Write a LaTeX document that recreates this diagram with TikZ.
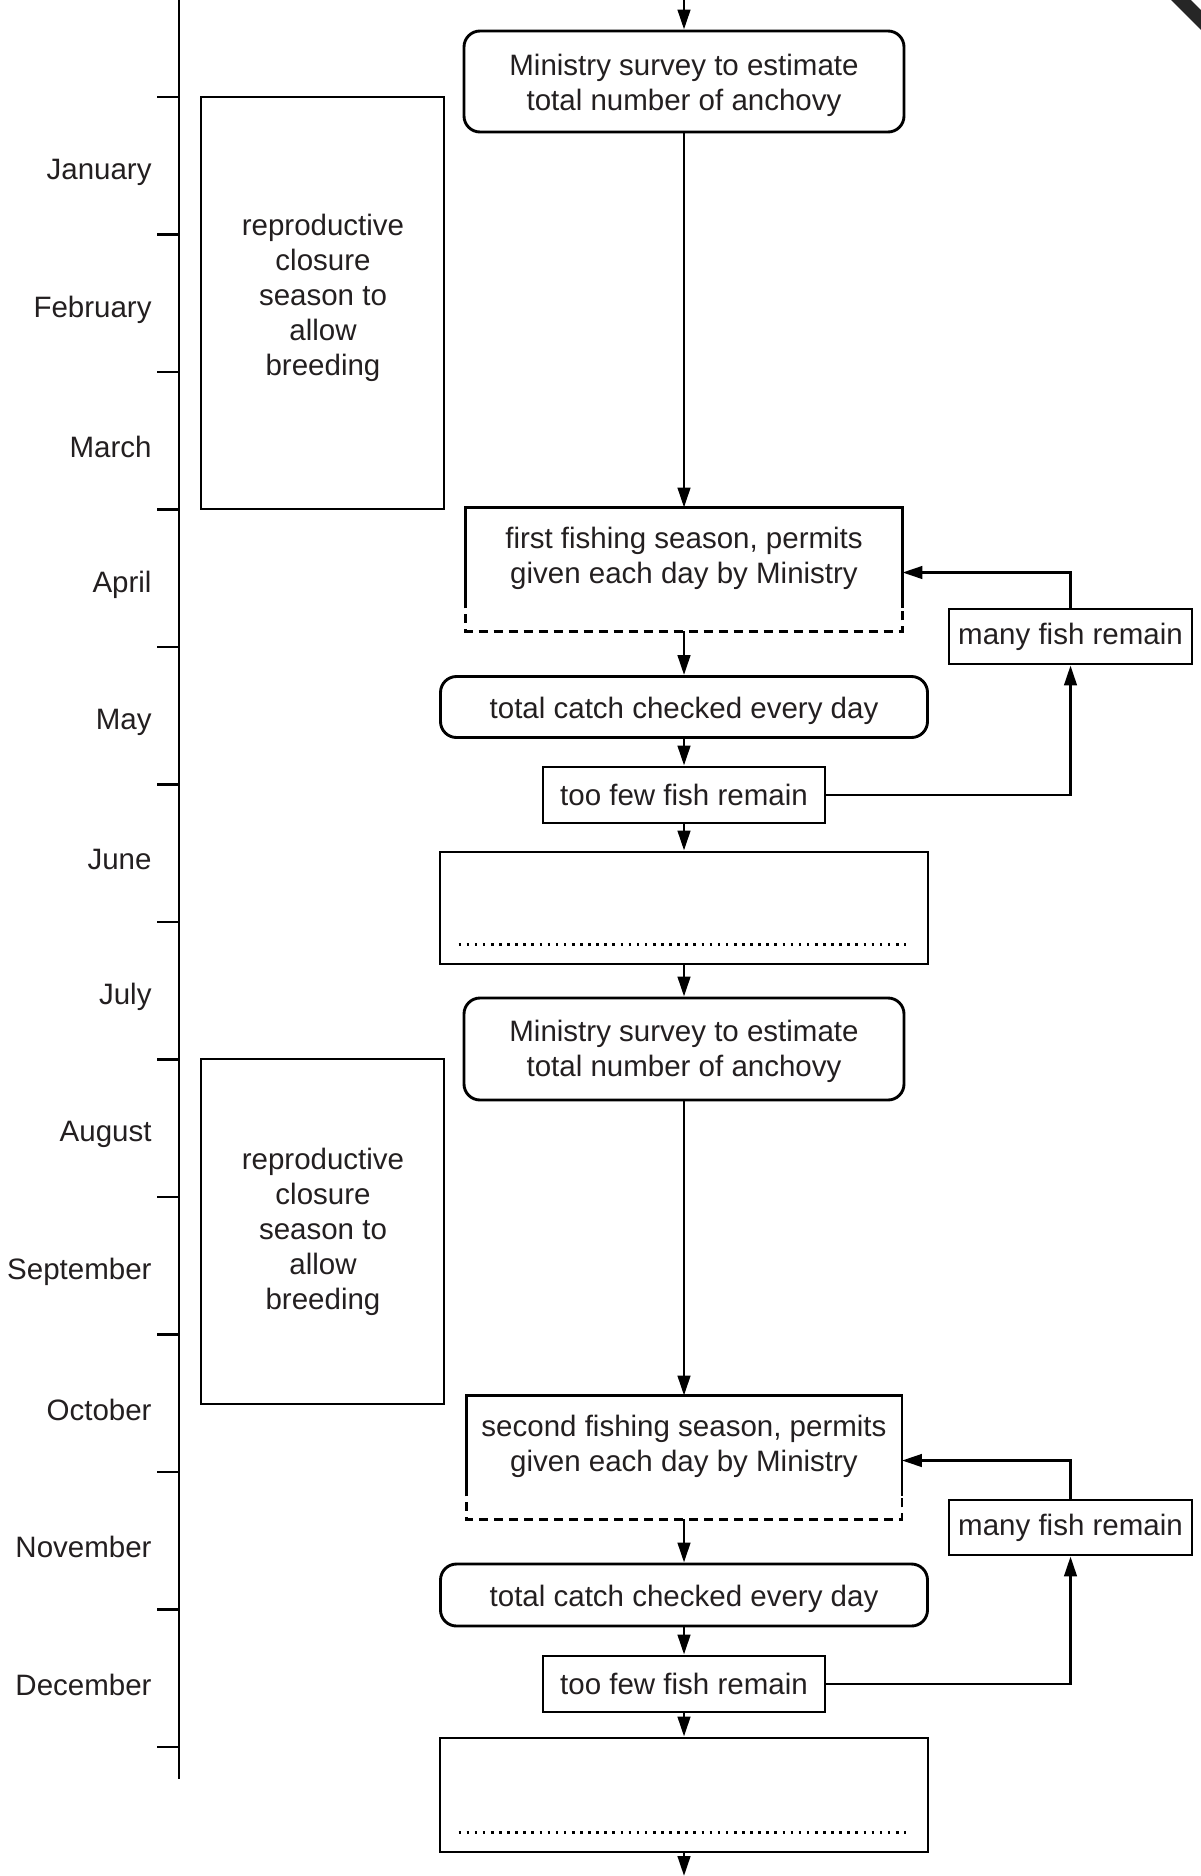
\documentclass[tikz,border=0pt]{standalone}
\usepackage{fontspec}
\setmainfont{Liberation Sans}
\usetikzlibrary{arrows.meta}
\definecolor{txt}{RGB}{35,31,32}
\begin{document}
\begin{tikzpicture}[x=1pt,y=-1pt,
  line width=2.9pt,
  every node/.style={font=\fontsize{29.5}{35}\selectfont, text=txt, inner sep=0pt, align=center},
  plainbox/.style={draw, rectangle},
  roundbox/.style={draw, rectangle, rounded corners=16pt},
  openbox/.style={rectangle, draw=none},
  arr/.style={-{Triangle[length=20pt,width=12.5pt]}},
  dashpart/.style={dash pattern=on 9pt off 6pt, dash phase=9pt},
  dotline/.style={line width=2.6pt, dash pattern=on 2.6pt off 5.5pt}]
\useasboundingbox (0,0) rectangle (1200,1876);

% timeline
\draw (179,0) -- (179,1779);
\foreach \k in {0,...,12} \draw (157,{97+137.5*\k}) -- (179,{97+137.5*\k});
\foreach \m [count=\i] in {January,February,March,April,May,June,July,August,September,October,November,December}
  \node[anchor=east] (m\i) at (153,{97+137.5*(\i-1)+75}) {\m};

% closure boxes
\node[plainbox, minimum width=243pt, minimum height=412pt] (c1) at (322.5,303) {};
\node (c1t) at (323,297.5) {reproductive\\closure\\season to\\allow\\breeding};
\node[plainbox, minimum width=243pt, minimum height=345pt] (c2) at (322.5,1231.5) {};
\node (c2t) at (323,1232) {reproductive\\closure\\season to\\allow\\breeding};

% first half
\coordinate (topin) at (684,0);
\node[roundbox, minimum width=440pt, minimum height=101pt] (s1) at (684,81.5) {};
\node (s1t) at (684,85) {Ministry survey to estimate\\total number of anchovy};
\node[openbox, minimum width=434pt, minimum height=121pt] (fl1) at (684,569.5) {};
\node (fl1t) at (684,558.5) {first fishing season, permits\\given each day by Ministry};
\draw ([yshift=23pt]fl1.south west) -- (fl1.north west) -- (fl1.north east) -- ([yshift=23pt]fl1.south east);
\draw[dashpart] ([yshift=23pt]fl1.south west) -- (fl1.south west) -- (fl1.south east) -- ([yshift=23pt]fl1.south east);
\node[roundbox, minimum width=487pt, minimum height=61pt] (tc1) at (684,707) {};
\node (tc1t) at (684,710.5) {total catch checked every day};
\node[plainbox, minimum width=282pt, minimum height=56pt] (tf1) at (684,795) {too few fish remain};
\node[plainbox, minimum width=243pt, minimum height=55pt] (mf1) at (1070.5,636.5) {many fish remain};
\node[plainbox, minimum width=488pt, minimum height=112pt] (e1) at (684,908) {};
\draw[dotline] ([xshift=20pt,yshift=21pt]e1.south west) -- ([xshift=-23pt,yshift=21pt]e1.south east);

\draw[arr] (topin) -- (s1.north);
\draw[arr] (s1.south) -- (fl1.north);
\draw[arr] (fl1.south) -- (tc1.north);
\draw[arr] (tc1.south) -- (tf1.north);
\draw[arr] (tf1.east) -| (mf1.south);
\draw[arr] (mf1.north) |- ([yshift=-3pt]fl1.east);
\draw[arr] (tf1.south) -- (e1.north);

% second half
\node[roundbox, minimum width=440pt, minimum height=102pt] (s2) at (684,1049) {};
\node (s2t) at (684,1051.5) {Ministry survey to estimate\\total number of anchovy};
\node[openbox, minimum width=433pt, minimum height=121pt] (fl2) at (684,1457.5) {};
\node (fl2t) at (684,1446) {second fishing season, permits\\given each day by Ministry};
\draw ([yshift=23pt]fl2.south west) -- (fl2.north west) -- (fl2.north east) -- ([yshift=23pt]fl2.south east);
\draw[dashpart] ([yshift=23pt]fl2.south west) -- (fl2.south west) -- (fl2.south east) -- ([yshift=23pt]fl2.south east);
\node[roundbox, minimum width=487pt, minimum height=62pt] (tc2) at (684,1595) {};
\node (tc2t) at (684,1598.5) {total catch checked every day};
\node[plainbox, minimum width=282pt, minimum height=56pt] (tf2) at (684,1684) {too few fish remain};
\node[plainbox, minimum width=243pt, minimum height=55pt] (mf2) at (1070.5,1527.5) {many fish remain};
\node[plainbox, minimum width=488pt, minimum height=114pt] (e2) at (684,1795) {};
\draw[dotline] ([xshift=20pt,yshift=21pt]e2.south west) -- ([xshift=-23pt,yshift=21pt]e2.south east);
\coordinate (botout) at (684,1876);

\draw[arr] (e1.south) -- (s2.north);
\draw[arr] (s2.south) -- (fl2.north);
\draw[arr] (fl2.south) -- (tc2.north);
\draw[arr] (tc2.south) -- (tf2.north);
\draw[arr] (tf2.east) -| (mf2.south);
\draw[arr] (mf2.north) |- ([yshift=-3pt]fl2.east);
\draw[arr] (tf2.south) -- (e2.north);
\draw[arr] (e2.south) -- (botout);

% corner mark
\draw[line width=14pt, black!85] (1168,-13) -- (1218,37);
\end{tikzpicture}
\end{document}
